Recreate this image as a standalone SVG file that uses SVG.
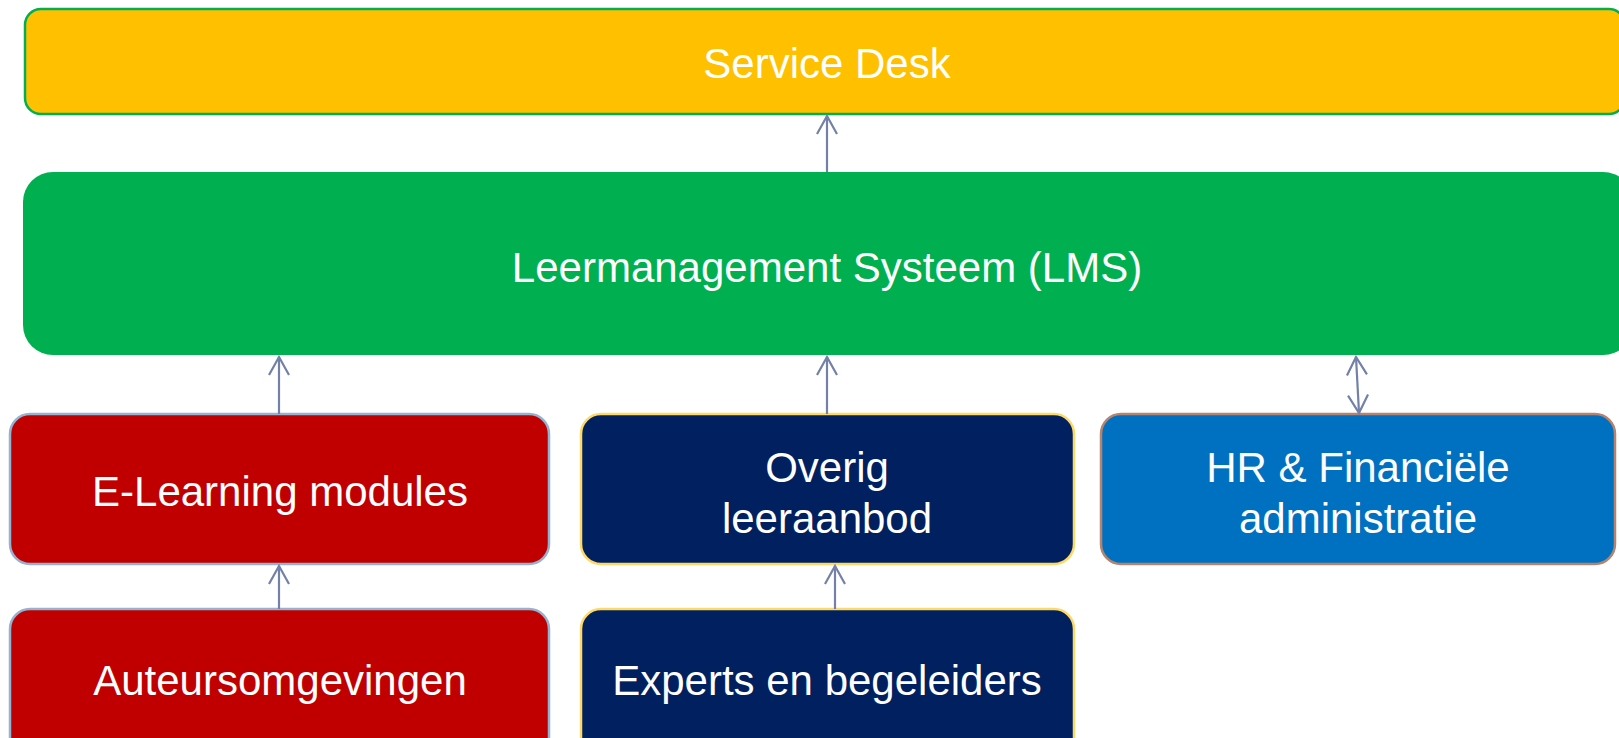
<svg xmlns="http://www.w3.org/2000/svg" width="1619" height="738" viewBox="0 0 1619 738">
<style>
.lbl{font-family:"Liberation Sans",Arial,sans-serif;font-size:42px;fill:#FFFFFF;text-anchor:middle}
.con{stroke:#7380A8;stroke-width:2.2;fill:none}
</style>
<defs>
<marker id="ah" markerUnits="userSpaceOnUse" viewBox="-22 -13 26 26" markerWidth="26" markerHeight="26" refX="0" refY="0" orient="auto-start-reverse">
<path d="M-18,-10 L0,0 L-18,10" fill="none" stroke="#7380A8" stroke-width="2.2"/>
</marker>
</defs>
<rect width="1619" height="738" fill="#FFFFFF"/>
<g id="service-desk">
<rect x="25" y="9" width="1600" height="105" rx="16" fill="#FFC000" stroke="#00B050" stroke-width="2.5"/>
<text class="lbl" x="827" y="78">Service Desk</text>
</g>
<g id="lms">
<rect x="23" y="172" width="1610" height="183" rx="30" fill="#00B050"/>
<text class="lbl" x="827" y="282">Leermanagement Systeem (LMS)</text>
</g>
<g id="elearning">
<rect x="10" y="414" width="539" height="150" rx="20" fill="#C00000" stroke="#94B3D0" stroke-width="2.5"/>
<text class="lbl" x="280" y="506">E-Learning modules</text>
</g>
<g id="overig">
<rect x="581" y="414" width="493" height="150" rx="20" fill="#002060" stroke="#FFD966" stroke-width="2.5"/>
<text class="lbl" x="827" y="482">Overig</text>
<text class="lbl" x="827" y="533">leeraanbod</text>
</g>
<g id="hr">
<rect x="1101" y="414" width="514" height="150" rx="20" fill="#0070C0" stroke="#B5836E" stroke-width="2.5"/>
<text class="lbl" x="1358" y="482">HR &amp; Financiële</text>
<text class="lbl" x="1358" y="533">administratie</text>
</g>
<g id="auteurs">
<rect x="10" y="609" width="539" height="150" rx="20" fill="#C00000" stroke="#94B3D0" stroke-width="2.5"/>
<text class="lbl" x="280" y="695">Auteursomgevingen</text>
</g>
<g id="experts">
<rect x="581" y="609" width="493" height="150" rx="20" fill="#002060" stroke="#FFD966" stroke-width="2.5"/>
<text class="lbl" x="827" y="695">Experts en begeleiders</text>
</g>
<g id="connectors">
<line class="con" x1="827" y1="172" x2="827" y2="116" marker-end="url(#ah)"/>
<line class="con" x1="279" y1="414" x2="279" y2="357" marker-end="url(#ah)"/>
<line class="con" x1="827" y1="414" x2="827" y2="357" marker-end="url(#ah)"/>
<line class="con" x1="1359" y1="413" x2="1356" y2="357" marker-start="url(#ah)" marker-end="url(#ah)"/>
<line class="con" x1="279" y1="609" x2="279" y2="566" marker-end="url(#ah)"/>
<line class="con" x1="835" y1="609" x2="835" y2="566" marker-end="url(#ah)"/>
</g>
</svg>
